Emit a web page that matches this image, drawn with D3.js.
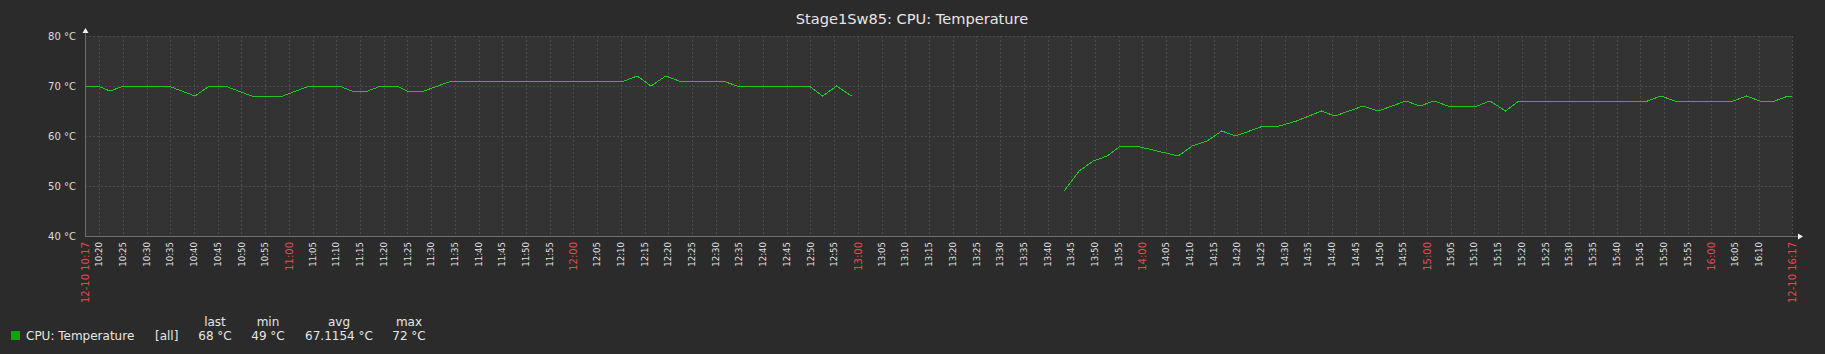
<html>
    <script src="https://d3js.org/d3.v7.min.js"></script>
    <head>
        <style>
        body {margin: 0; background: #2b2b2b;}
        text {font-family: "DejaVu Sans", sans-serif;}
        .grid {stroke: #4c4c4c; stroke-width: 1px; stroke-dasharray: 2 2; shape-rendering: crispEdges;}
        .axis-line {stroke: #6e6e6e; stroke-width: 1px; shape-rendering: crispEdges;}
        .series {stroke: #1ec81e; stroke-width: 1px; fill: none; shape-rendering: crispEdges;}
        .ylabel {font-size: 10px; fill: #dcdcdc;}
        .xlabel {font-size: 8.6px; fill: #e0e0e0;}
        .xlabel.red {font-size: 10px; fill: #e84a4a;}
        .legend {font-size: 12px; fill: #e6e6e6;}
        </style>
    </head>
    <body onload='init()'>
        <div id="chart"></div>
        <script>
            // measured times (12-10) and CPU temperature in °C; null = no data
            var times = ["10:17:10","10:19:41","10:22:16","10:25:13","10:34:34","10:40:12","10:43:13","10:46:31",
                "10:52:09","10:58:41","11:04:18","11:10:38","11:13:14","11:16:37","11:19:25","11:22:44","11:24:58",
                "11:28:29","11:34:20","12:10:40","12:13:28","12:16:22","12:19:28","12:22:20","12:31:29","12:34:34",
                "12:49:44","12:52:34","12:55:31","12:58:41","13:20:00",
                "13:43:31","13:46:41","13:49:38","13:52:35","13:55:25","13:58:38","14:07:34","14:10:31","14:13:40",
                "14:16:43","14:19:40","14:25:29","14:28:52","14:32:31","14:37:48","14:40:36","14:46:34","14:49:44",
                "14:55:34","14:58:32","15:01:29","15:04:30","15:10:37","15:13:17","15:16:36","15:19:24","15:46:32",
                "15:49:21","15:52:18","16:04:36","16:07:25","16:10:14","16:13:23","16:16:12","16:17:00"];
            var temps = [70,70,69,70,70,68,70,70,
                68,68,70,70,69,69,70,70,69,
                69,71,71,72,70,72,71,71,70,
                70,68,70,68,null,
                49,53,55,56,58,58,56,58,59,
                61,60,62,62,63,65,64,66,65,
                67,66,67,66,66,67,65,67,67,
                68,67,67,68,67,67,68,68];
            var yTicks = [40,50,60,70,80];
            var legendHeads = ["last","min","avg","max"];
            var legendVals = ["68 °C","49 °C","67.1154 °C","72 °C"];

            function init(){
                var W = 1825, H = 354;
                var left = 85, right = 1792, top = 36, bottom = 236;
                var parse = d3.timeParse("%Y-%m-%d %H:%M:%S");
                var t0 = parse("2020-12-10 10:17:00"), t1 = parse("2020-12-10 16:17:00");

                var data = times.map((t, i) => ({t: parse("2020-12-10 " + t), v: temps[i]}));

                var x = d3.scaleTime().domain([t0, t1]).range([left, right]);
                var y = d3.scaleLinear().domain([40, 80]).range([bottom, top]);

                const svg = d3.select("#chart")
                    .append("svg")
                    .attr("width", W)
                    .attr("height", H);

                svg.append("rect") // plot background
                    .attr("x", left).attr("y", top)
                    .attr("width", right - left).attr("height", bottom - top)
                    .attr("fill", "#333333");

                svg.append("text") // title
                    .attr("x", 912).attr("y", 24)
                    .attr("text-anchor", "middle")
                    .attr("font-size", "14.6px")
                    .attr("fill", "#e6e6e6")
                    .text("Stage1Sw85: CPU: Temperature");

                // time ticks every 5 minutes, skip the last one near the end label
                var ticks = d3.timeMinute.every(5).range(d3.timeMinute.offset(t0, 1), d3.timeMinute.offset(t1, -5));

                svg.selectAll(".vgrid")
                    .data(ticks.concat([t1]))
                    .enter()
                    .append("line")
                    .attr("class", "grid")
                    .attr("x1", d => Math.round(x(d)) + 0.5)
                    .attr("x2", d => Math.round(x(d)) + 0.5)
                    .attr("y1", top).attr("y2", bottom);

                svg.selectAll(".hgrid")
                    .data(yTicks.slice(1))
                    .enter()
                    .append("line")
                    .attr("class", "grid")
                    .attr("x1", left).attr("x2", right)
                    .attr("y1", d => Math.round(y(d)) + 0.5)
                    .attr("y2", d => Math.round(y(d)) + 0.5);

                svg.selectAll(".ylabel")
                    .data(yTicks)
                    .enter()
                    .append("text")
                    .attr("class", "ylabel")
                    .attr("x", 76)
                    .attr("y", d => y(d))
                    .attr("dy", "0.36em")
                    .attr("text-anchor", "end")
                    .text(d => d + " °C");

                // axes
                svg.append("line").attr("class", "axis-line")
                    .attr("x1", left + 0.5).attr("x2", left + 0.5).attr("y1", 31).attr("y2", bottom + 1);
                svg.append("line").attr("class", "axis-line")
                    .attr("x1", left).attr("x2", 1799).attr("y1", bottom + 0.5).attr("y2", bottom + 0.5);
                svg.append("path") // y arrow
                    .attr("d", "M" + (left + 0.5) + ",28 l3,5 l-6,0 Z").attr("fill", "#f0f0f0");
                svg.append("path") // x arrow
                    .attr("d", "M1803," + (bottom + 0.5) + " l-5,-3 l0,6 Z").attr("fill", "#f0f0f0");

                // x labels
                var fmt = d3.timeFormat("%H:%M");
                var labels = ticks.map(d => ({t: d, s: fmt(d), red: d.getMinutes() === 0}));
                labels.push({t: t0, s: "12-10 10:17", red: true});
                labels.push({t: t1, s: "12-10 16:17", red: true});

                svg.selectAll(".xlabel")
                    .data(labels)
                    .enter()
                    .append("text")
                    .attr("class", d => d.red ? "xlabel red" : "xlabel")
                    .attr("text-anchor", "end")
                    .attr("transform", d => "translate(" + x(d.t) + ",242) rotate(-90)")
                    .attr("dy", "0.36em")
                    .text(d => d.s);

                // series
                var line = d3.line()
                    .defined(d => d.v !== null)
                    .x(d => x(d.t))
                    .y(d => y(d.v));

                svg.append("path")
                    .datum(data)
                    .attr("class", "series")
                    .attr("d", line);

                // legend
                svg.append("rect")
                    .attr("x", 11).attr("y", 331).attr("width", 9).attr("height", 9)
                    .attr("fill", "#00aa00");
                svg.append("text").attr("class", "legend")
                    .attr("x", 26).attr("y", 340).text("CPU: Temperature");
                svg.append("text").attr("class", "legend")
                    .attr("x", 155).attr("y", 340).text("[all]");

                var cols = [215, 268, 339, 409];
                svg.selectAll(".lhead")
                    .data(legendHeads)
                    .enter()
                    .append("text")
                    .attr("class", "legend")
                    .attr("x", (d, i) => cols[i]).attr("y", 326)
                    .attr("text-anchor", "middle")
                    .text(d => d);
                svg.selectAll(".lval")
                    .data(legendVals)
                    .enter()
                    .append("text")
                    .attr("class", "legend")
                    .attr("x", (d, i) => cols[i]).attr("y", 340)
                    .attr("text-anchor", "middle")
                    .text(d => d);
            }
        </script>
    </body>
</html>
